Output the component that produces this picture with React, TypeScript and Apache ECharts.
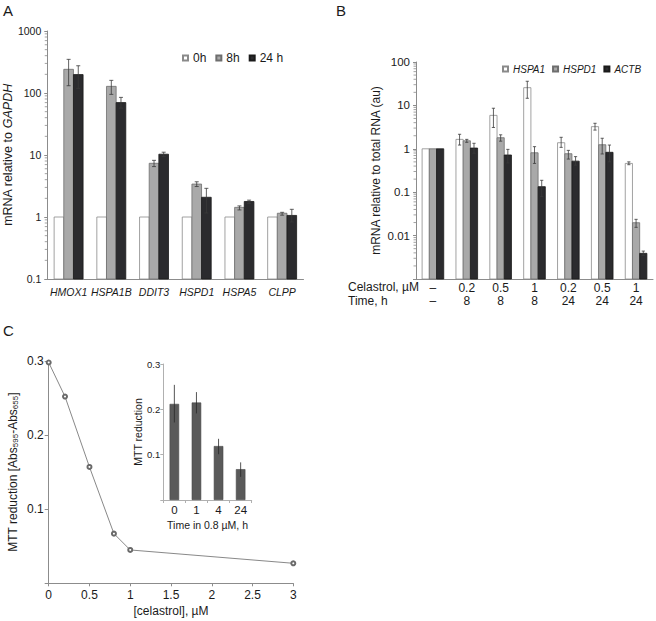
import React, { useEffect, useRef } from 'react';
import * as echarts from 'echarts';

const FONT = '"Liberation Sans", Arial, Helvetica, sans-serif';
const TXT = '#1a1a1a';
const AX = '#8c8c8c';

// ---------- Panel A ----------
const genesA = ['HMOX1', 'HSPA1B', 'DDIT3', 'HSPD1', 'HSPA5', 'CLPP'];
const a0h = [1, 1, 1, 1, 1, 1];
const a8h = [241, 128, 7.35, 3.4, 1.43, 1.15];
const a8hLo = [131, 95, 6.5, 3.1, 1.3, 1.07];
const a8hHi = [349, 160, 8.2, 3.7, 1.51, 1.19];
const a24h = [198, 70, 10.3, 2.08, 1.78, 1.06];
const a24hLo = [119, 57, 9.4, 1.16, 1.66, 0.83];
const a24hHi = [275, 85, 11.1, 2.9, 1.87, 1.33];
const minorTicksA = [
  0.2, 0.3, 0.4, 0.5, 0.6, 0.7, 0.8, 0.9,
  2, 3, 4, 5, 6, 7, 8, 9,
  20, 30, 40, 50, 60, 70, 80, 90,
  200, 300, 400, 500, 600, 700, 800, 900,
];

// ---------- Panel B ----------
const celastrolB = ['–', '0.2', '0.5', '1', '0.2', '0.5', '1'];
const timeB = ['–', '8', '8', '8', '24', '24', '24'];
const hspa1 = [1, 1.65, 5.9, 25.6, 1.38, 3.24, 0.46];
const hspa1Lo = [null, 1.22, 3.1, 14.6, 1.08, 2.7, 0.43];
const hspa1Hi = [null, 2.16, 8.6, 36, 1.84, 3.87, 0.5];
const hspd1 = [1, 1.53, 1.8, 0.81, 0.77, 1.24, 0.0198];
const hspd1Lo = [null, 1.41, 1.5, 0.46, 0.58, 0.76, 0.0155];
const hspd1Hi = [null, 1.65, 2.1, 1.12, 0.92, 1.75, 0.0237];
const actb = [1, 1.04, 0.72, 0.134, 0.52, 0.83, 0.0039];
const actbLo = [null, 0.79, 0.47, 0.08, 0.42, 0.5, 0.0035];
const actbHi = [null, 1.34, 0.97, 0.188, 0.66, 1.22, 0.0044];
const minorTicksB = [
  0.002, 0.003, 0.004, 0.005, 0.006, 0.007, 0.008, 0.009,
  0.02, 0.03, 0.04, 0.05, 0.06, 0.07, 0.08, 0.09,
  0.2, 0.3, 0.4, 0.5, 0.6, 0.7, 0.8, 0.9,
  2, 3, 4, 5, 6, 7, 8, 9,
  20, 30, 40, 50, 60, 70, 80, 90,
];

// ---------- Panel C ----------
const celastrolConc = [0, 0.2, 0.5, 0.8, 1, 3];
const mttReduction = [0.298, 0.252, 0.157, 0.067, 0.045, 0.027];
const timeInset = ['0', '1', '4', '24'];
const mttInset = [0.212, 0.215, 0.119, 0.068];
const mttInsetLo = [0.171, 0.191, 0.101, 0.051];
const mttInsetHi = [0.254, 0.238, 0.135, 0.083];

const WHITE = { fill: '#ffffff', stroke: '#8a8a8a' };
const GRAY = { fill: '#a9a9a9', stroke: '#6e6e6e' };
const BLACK = { fill: '#2b2b2e', stroke: '#1a1a1a' };

function groupedBar(
  name: string, xi: number, yi: number,
  values: number[], lo: (number | null)[] | null, hi: (number | null)[] | null,
  k: number, n: number, frac: number, base: number, cap: number,
  col: { fill: string; stroke: string },
) {
  return {
    type: 'custom',
    name,
    xAxisIndex: xi,
    yAxisIndex: yi,
    silent: true,
    itemStyle: { color: col.fill, borderColor: col.stroke, borderWidth: 0.8 },
    encode: { x: 0, y: 1 },
    data: values.map((v, i) => [i, v, lo && lo[i] != null ? lo[i] : 0, hi && hi[i] != null ? hi[i] : 0]),
    renderItem: (params: any, api: any) => {
      const cat = api.value(0);
      const v = api.value(1);
      const l = api.value(2);
      const h = api.value(3);
      const p = api.coord([cat, v]);
      const band = api.size([1, 0], [cat, v])[0];
      const w = band * frac;
      const cx = p[0] + (k - (n - 1) / 2) * w;
      const yBase = api.coord([cat, base])[1];
      const children: any[] = [
        {
          type: 'rect',
          shape: { x: cx - w / 2, y: p[1], width: w, height: yBase - p[1] },
          style: { fill: col.fill, stroke: col.stroke, lineWidth: 0.8 },
        },
      ];
      if (l > 0 && h > 0) {
        const yl = api.coord([cat, l])[1];
        const yh = api.coord([cat, h])[1];
        const es = { stroke: '#3a3a3a', lineWidth: 0.8 };
        children.push({ type: 'line', z2: 10, shape: { x1: cx, y1: yh, x2: cx, y2: yl }, style: es });
        children.push({ type: 'line', z2: 10, shape: { x1: cx - cap, y1: yh, x2: cx + cap, y2: yh }, style: es });
        children.push({ type: 'line', z2: 10, shape: { x1: cx - cap, y1: yl, x2: cx + cap, y2: yl }, style: es });
      }
      return { type: 'group', children };
    },
  };
}

function minorTicks(xi: number, yi: number, vals: number[], len: number) {
  return {
    type: 'custom',
    xAxisIndex: xi,
    yAxisIndex: yi,
    silent: true,
    encode: { x: 0, y: 1 },
    data: vals.map((v) => [0, v]),
    renderItem: (params: any, api: any) => {
      const y = api.coord([0, api.value(1)])[1];
      const x = params.coordSys.x;
      return {
        type: 'line',
        shape: { x1: x - len, y1: y, x2: x, y2: y },
        style: { stroke: AX, lineWidth: 0.8 },
      };
    },
  };
}

function buildOption() {
  const logLabel = (hideMin: number) => (v: number) => (v < hideMin ? '' : String(parseFloat(Number(v).toPrecision(3))));
  const axisLine = { show: true, lineStyle: { color: AX, width: 1 } };

  const insetErr = {
    type: 'custom',
    xAxisIndex: 3,
    yAxisIndex: 3,
    silent: true,
    z: 5,
    encode: { x: 0, y: 1 },
    data: timeInset.map((_, i) => [i, mttInset[i], mttInsetLo[i], mttInsetHi[i]]),
    renderItem: (params: any, api: any) => {
      const cat = api.value(0);
      const pl = api.coord([cat, api.value(2)]);
      const ph = api.coord([cat, api.value(3)]);
      return {
        type: 'line',
        shape: { x1: pl[0], y1: pl[1], x2: ph[0], y2: ph[1] },
        style: { stroke: '#2a2a2a', lineWidth: 0.8 },
      };
    },
  };

  return {
    animation: false,
    backgroundColor: '#ffffff',
    textStyle: { fontFamily: FONT, color: TXT },
    graphic: [
      { type: 'text', x: 3, y: 3, style: { text: 'A', fontSize: 15, fontFamily: FONT, fill: TXT } },
      { type: 'text', x: 336, y: 3, style: { text: 'B', fontSize: 15, fontFamily: FONT, fill: TXT } },
      { type: 'text', x: 3, y: 323, style: { text: 'C', fontSize: 15, fontFamily: FONT, fill: TXT } },
      { type: 'text', x: 348, y: 287, style: { text: 'Celastrol, µM', fontSize: 12, fontFamily: FONT, fill: TXT, verticalAlign: 'middle' } },
      { type: 'text', x: 348, y: 300.5, style: { text: 'Time, h', fontSize: 12, fontFamily: FONT, fill: TXT, verticalAlign: 'middle' } },
    ],
    legend: [
      {
        data: ['0h', '8h', '24 h'],
        left: 177,
        top: 47,
        icon: 'rect',
        itemWidth: 5,
        itemHeight: 5,
        itemGap: 9,
        selectedMode: false,
        textStyle: { fontSize: 12, fontFamily: FONT, color: TXT },
      },
      {
        data: ['HSPA1', 'HSPD1', 'ACTB'],
        left: 497,
        top: 59,
        icon: 'rect',
        itemWidth: 5,
        itemHeight: 5,
        itemGap: 7,
        selectedMode: false,
        textStyle: { fontSize: 10, fontStyle: 'italic', fontFamily: FONT, color: TXT },
      },
    ],
    grid: [
      { left: 46, top: 31, width: 257.5, height: 248 },
      { left: 416, top: 62, width: 237, height: 217 },
      { left: 48.7, top: 361, width: 244.6, height: 222.3 },
      { left: 163.3, top: 364, width: 88.4, height: 136 },
    ],
    xAxis: [
      {
        type: 'category', gridIndex: 0, data: genesA,
        axisLine, axisTick: { show: false },
        axisLabel: { interval: 0, fontSize: 10.5, fontStyle: 'italic', margin: 7, color: TXT, fontFamily: FONT },
      },
      {
        type: 'category', gridIndex: 1, data: celastrolB.map((c, i) => c + '\n' + timeB[i]),
        axisLine, axisTick: { show: false },
        axisLabel: { interval: 0, fontSize: 12, lineHeight: 13.5, margin: 2, color: TXT, fontFamily: FONT },
      },
      {
        type: 'value', gridIndex: 2, min: 0, max: 3, interval: 0.5,
        axisLine, axisTick: { show: true, length: 3, lineStyle: { color: AX } }, splitLine: { show: false },
        axisLabel: { fontSize: 12, margin: 6, color: TXT, fontFamily: FONT },
        name: '[celastrol], µM', nameLocation: 'middle', nameGap: 22,
        nameTextStyle: { fontSize: 12, color: TXT, fontFamily: FONT },
      },
      {
        type: 'category', gridIndex: 3, data: timeInset,
        axisLine: { show: true, lineStyle: { color: '#b0b0b0' } },
        axisTick: { show: true, length: 3, lineStyle: { color: '#b0b0b0' } },
        axisLabel: { interval: 0, fontSize: 11.5, margin: 4, color: TXT, fontFamily: FONT },
        name: 'Time in 0.8 µM, h', nameLocation: 'middle', nameGap: 19,
        nameTextStyle: { fontSize: 10.5, color: TXT, fontFamily: FONT },
      },
    ],
    yAxis: [
      {
        type: 'log', logBase: 10, gridIndex: 0, min: 0.1, max: 1000, splitNumber: 4,
        axisLine, axisTick: { show: true, length: 3, lineStyle: { color: AX } }, splitLine: { show: false },
        axisLabel: { fontSize: 10.5, margin: 6, color: TXT, fontFamily: FONT, formatter: logLabel(0) },
        name: 'mRNA relative to {i|GAPDH}', nameLocation: 'middle', nameGap: 29,
        nameTextStyle: {
          fontSize: 12.5, color: TXT, fontFamily: FONT,
          rich: { i: { fontSize: 12.5, fontStyle: 'italic', color: TXT, fontFamily: FONT } },
        },
      },
      {
        type: 'log', logBase: 10, gridIndex: 1, min: 0.001, max: 100, splitNumber: 5,
        axisLine, axisTick: { show: true, length: 3, lineStyle: { color: AX } }, splitLine: { show: false },
        axisLabel: { fontSize: 11.5, margin: 6, color: TXT, fontFamily: FONT, formatter: logLabel(0.0015) },
        name: 'mRNA relative to total RNA (au)', nameLocation: 'middle', nameGap: 34,
        nameTextStyle: { fontSize: 12, color: TXT, fontFamily: FONT },
      },
      {
        type: 'value', gridIndex: 2, min: 0, max: 0.3, interval: 0.1,
        axisLine, axisTick: { show: true, length: 4, lineStyle: { color: AX } }, splitLine: { show: false },
        axisLabel: { fontSize: 12, margin: 5, color: TXT, fontFamily: FONT, formatter: (v: number) => (v === 0 ? '' : v.toFixed(1)) },
        name: 'MTT reduction [Abs{s|595}-Abs{s|655}]', nameLocation: 'middle', nameGap: 29,
        nameTextStyle: {
          fontSize: 12, color: TXT, fontFamily: FONT, lineHeight: 14,
          rich: { s: { fontSize: 8, lineHeight: 8, verticalAlign: 'bottom', color: TXT, fontFamily: FONT } },
        },
      },
      {
        type: 'value', gridIndex: 3, min: 0, max: 0.3, interval: 0.1,
        axisLine: { show: true, lineStyle: { color: '#b0b0b0' } },
        axisTick: { show: true, length: 3, lineStyle: { color: '#b0b0b0' } }, splitLine: { show: false },
        axisLabel: { fontSize: 9.5, margin: 3, color: TXT, fontFamily: FONT, formatter: (v: number) => (v === 0 ? '' : v.toFixed(1)) },
        name: 'MTT reduction', nameLocation: 'middle', nameGap: 19,
        nameTextStyle: { fontSize: 10.5, color: TXT, fontFamily: FONT },
      },
    ],
    series: [
      groupedBar('0h', 0, 0, a0h, null, null, 0, 3, 0.226, 0.1, 2, WHITE),
      groupedBar('8h', 0, 0, a8h, a8hLo, a8hHi, 1, 3, 0.226, 0.1, 2, GRAY),
      groupedBar('24 h', 0, 0, a24h, a24hLo, a24hHi, 2, 3, 0.226, 0.1, 2, BLACK),
      minorTicks(0, 0, minorTicksA, 2.5),
      groupedBar('HSPA1', 1, 1, hspa1, hspa1Lo, hspa1Hi, 0, 3, 0.213, 0.001, 1.6, WHITE),
      groupedBar('HSPD1', 1, 1, hspd1, hspd1Lo, hspd1Hi, 1, 3, 0.213, 0.001, 1.6, GRAY),
      groupedBar('ACTB', 1, 1, actb, actbLo, actbHi, 2, 3, 0.213, 0.001, 1.6, BLACK),
      minorTicks(1, 1, minorTicksB, 2.5),
      {
        type: 'line', xAxisIndex: 2, yAxisIndex: 2, silent: true,
        data: celastrolConc.map((c, i) => [c, mttReduction[i]]),
        symbol: 'emptyCircle', symbolSize: 4,
        lineStyle: { color: '#6a6a6a', width: 0.8 },
        itemStyle: { color: '#6a6a6a', borderWidth: 0.7 },
      },
      {
        type: 'bar', xAxisIndex: 3, yAxisIndex: 3, silent: true,
        data: mttInset, barWidth: 9.5,
        itemStyle: { color: '#5a5a5a', borderColor: '#474747', borderWidth: 0.6 },
      },
      insetErr,
    ],
  };
}

export default function App() {
  const ref = useRef<HTMLDivElement>(null);
  useEffect(() => {
    if (!ref.current) return;
    const chart = echarts.init(ref.current, undefined, { renderer: 'svg' });
    chart.setOption(buildOption() as any);
    return () => chart.dispose();
  }, []);
  return (
    <div
      ref={ref}
      style={{ position: 'absolute', left: 0, top: 0, width: 656, height: 621, background: '#fff' }}
    />
  );
}
